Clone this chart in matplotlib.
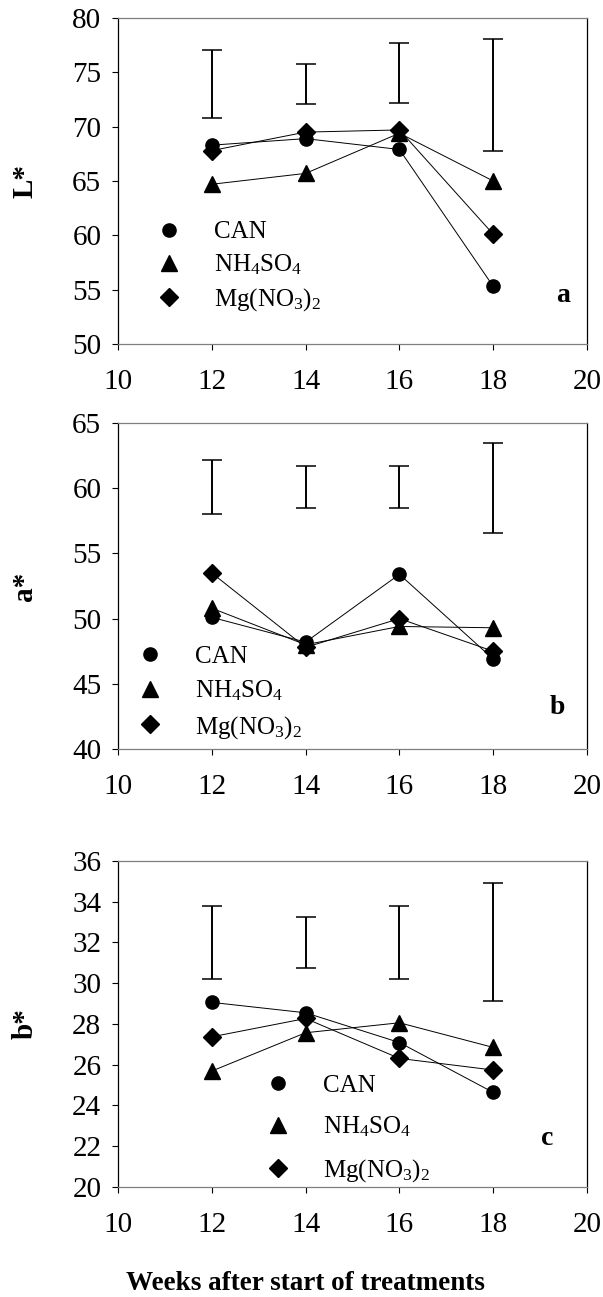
import numpy as np
import matplotlib.pyplot as plt

plt.rcParams['font.family'] = ['Liberation Serif', 'DejaVu Serif']
plt.rcParams['mathtext.fontset'] = 'custom'
plt.rcParams['mathtext.rm'] = 'Liberation Serif'
plt.rcParams['mathtext.it'] = 'Liberation Serif:italic'

# weeks after start of treatments
weeks = [12, 14, 16, 18]
labels = ['CAN', 'NH$_4$SO$_4$', 'Mg(NO$_3$)$_2$']

# L*
L_can = [68.3, 68.9, 67.9, 55.3]
L_nh4 = [64.7, 65.7, 69.4, 65.0]
L_mg = [67.8, 69.5, 69.7, 60.1]
L_err_lo = [70.8, 72.1, 72.2, 67.8]
L_err_hi = [77.1, 75.8, 77.7, 78.1]

# a*
a_can = [50.1, 48.2, 53.4, 46.9]
a_nh4 = [50.8, 48.0, 49.4, 49.3]
a_mg = [53.5, 47.8, 50.0, 47.5]
a_err_lo = [58.0, 58.5, 58.5, 56.6]
a_err_hi = [62.2, 61.7, 61.7, 63.5]

# b*
b_can = [29.05, 28.54, 27.08, 24.63]
b_nh4 = [25.68, 27.56, 28.05, 26.84]
b_mg = [27.36, 28.26, 26.30, 25.73]
b_err_lo = [30.2, 30.76, 30.2, 29.1]
b_err_hi = [33.8, 33.25, 33.8, 34.9]

fig = plt.figure(figsize=(6.03, 12.97), dpi=100)

panels = [
    # bottom, series, err lo/hi, ylim, yticks, ylabel, letter, legend anchor, label spacing, letter pos
    (0.7348, [L_can, L_nh4, L_mg], L_err_lo, L_err_hi, (50, 80), np.arange(50, 81, 5), 'L*', 'a',
     (0.055, 0.378), 0.36, (0.949, 0.150)),
    (0.4225, [a_can, a_nh4, a_mg], a_err_lo, a_err_hi, (40, 65), np.arange(40, 66, 5), 'a*', 'b',
     (0.015, 0.317), 0.42, (0.936, 0.126)),
    (0.0850, [b_can, b_nh4, b_mg], b_err_lo, b_err_hi, (20, 36), np.arange(20, 37, 2), 'b*', 'c',
     (0.288, 0.345), 0.72, (0.915, 0.149)),
]

markers = ['o', '^', 'D']
msizes = [9.5, 11, 8.8]

for bottom, series, lo, hi, ylim, yticks, ylab, letter, anchor, lspace, lpos in panels:
    ax = fig.add_axes([0.1957, bottom, 0.7778, 0.2513])
    for vals in series:
        ax.plot(weeks, vals, color='black', lw=0.7)
    # markers drawn separately so the legend shows no line
    handles = []
    for vals, mk, ms, lab in zip(series, markers, msizes, labels):
        h, = ax.plot(weeks, vals, linestyle='none', marker=mk, ms=ms, color='black', label=lab)
        handles.append(h)
    lo = np.array(lo)
    hi = np.array(hi)
    ax.errorbar(weeks, (lo + hi) / 2, yerr=(hi - lo) / 2, fmt='none', ecolor='black',
                elinewidth=1.4, capsize=7.5, capthick=1.1)

    ax.set_xlim(10, 20)
    ax.set_ylim(*ylim)
    ax.set_xticks([10, 12, 14, 16, 18, 20])
    ax.set_yticks(yticks)
    ax.tick_params(axis='both', direction='out', length=4, width=0.8, labelsize=21)
    ax.tick_params(axis='y', pad=8)
    ax.tick_params(axis='x', pad=14)
    for s in ['left', 'right']:
        ax.spines[s].set_color('black')
        ax.spines[s].set_linewidth(0.9)
    for s in ['top', 'bottom']:
        ax.spines[s].set_color('#7f7f7f')
        ax.spines[s].set_linewidth(0.9)

    ax.legend(handles=handles, loc='upper left', bbox_to_anchor=anchor, frameon=False,
              fontsize=18, borderpad=0, borderaxespad=0, handletextpad=0.8,
              labelspacing=lspace, handlelength=2.0)
    ax.text(lpos[0], lpos[1], letter, transform=ax.transAxes, fontsize=20,
            fontweight='bold', ha='center', va='center')

    # y label placed by hand in figure coords
    ycen = bottom + 0.2513 / 2
    fig.text(0.041, ycen, ylab, rotation=90, fontsize=21, fontweight='bold',
             ha='center', va='center')

fig.text(0.506, 1 - 1283 / 1297, 'Weeks after start of treatments', fontsize=19.5,
         fontweight='bold', ha='center', va='center')

fig.savefig('out.png', dpi=100)
